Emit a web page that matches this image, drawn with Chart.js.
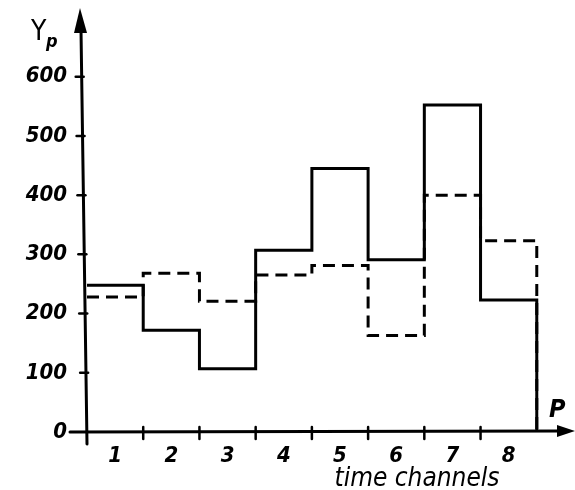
<!DOCTYPE html>
<html>
<head>
<meta charset="utf-8">
<script src="https://cdn.jsdelivr.net/npm/chart.js@4"></script>
<style>
  body { margin: 0; background: #fff; }
  #box { width: 575px; height: 490px; }
</style>
</head>
<body>
<div id="box"><canvas id="stepChart"></canvas></div>
<script>
const channels = [1, 2, 3, 4, 5, 6, 7, 8];
const solidValues = [248, 172, 107, 307, 445, 291, 552, 223];
const dashedValues = [228, 268, 221, 265, 281, 163, 400, 323];
const yTicks = [0, 100, 200, 300, 400, 500, 600];

// one step per channel, closed down to zero at the right end
function steps(values) {
  const pts = values.map((v, i) => ({ x: channels[i] - 0.5, y: v }));
  const end = channels[channels.length - 1] + 0.5;
  pts.push({ x: end, y: values[values.length - 1] });
  pts.push({ x: end, y: 0 });
  return pts;
}

const handFont = '"DejaVu Sans Condensed", "DejaVu Sans"';

const handAxes = {
  id: 'handAxes',
  afterDraw(chart) {
    const { ctx, scales: { x, y } } = chart;
    const x0 = x.getPixelForValue(0.5);
    const y0 = y.getPixelForValue(0);
    ctx.save();
    ctx.strokeStyle = '#000';
    ctx.fillStyle = '#000';
    ctx.lineCap = 'round';
    ctx.lineWidth = 3;

    // y axis, a little slanted like the drawing
    ctx.beginPath();
    ctx.moveTo(x0, y0 + 12);
    ctx.lineTo(x0 - 6, 30);
    ctx.stroke();
    ctx.beginPath();
    ctx.moveTo(x0 - 7, 8);
    ctx.lineTo(x0 - 13, 33);
    ctx.lineTo(x0, 33);
    ctx.closePath();
    ctx.fill();

    // x axis
    ctx.beginPath();
    ctx.moveTo(70, y0);
    ctx.lineTo(560, y0 - 1);
    ctx.stroke();
    ctx.beginPath();
    ctx.moveTo(575, y0 - 1);
    ctx.lineTo(557, y0 - 7);
    ctx.lineTo(557, y0 + 5);
    ctx.closePath();
    ctx.fill();

    // tick marks
    ctx.lineWidth = 2.5;
    for (let i = 1; i < channels.length; i++) {
      const px = x.getPixelForValue(channels[i] - 0.5);
      ctx.beginPath();
      ctx.moveTo(px, y0 - 5);
      ctx.lineTo(px, y0 + 7);
      ctx.stroke();
    }
    yTicks.slice(1).forEach(v => {
      const py = y.getPixelForValue(v);
      const ax = x0 - 6 * (y0 - py) / (y0 - 30);
      ctx.beginPath();
      ctx.moveTo(ax - 6, py);
      ctx.lineTo(ax + 2, py);
      ctx.stroke();
    });

    // labels
    ctx.textBaseline = 'alphabetic';
    ctx.textAlign = 'left';
    ctx.font = '28px ' + handFont;
    ctx.fillText('Y', 31, 40);
    ctx.font = 'italic bold 18px ' + handFont;
    ctx.fillText('p', 46, 47);
    ctx.font = 'italic bold 25px ' + handFont;
    ctx.fillText('P', 549, 417);
    ctx.font = 'italic 26px ' + handFont;
    ctx.textAlign = 'center';
    ctx.fillText('time channels', 417, 486);
    ctx.restore();
  }
};

const tickFont = { family: 'DejaVu Sans Condensed', size: 22, style: 'italic', weight: 'bold' };

const ctx = document.getElementById('stepChart').getContext('2d');
new Chart(ctx, {
  type: 'line',
  data: {
    datasets: [
      {
        label: 'solid',
        data: steps(solidValues),
        borderColor: '#000',
        borderWidth: 3,
        stepped: true,
        pointRadius: 0,
        clip: 10
      },
      {
        label: 'dashed',
        data: steps(dashedValues),
        borderColor: '#000',
        borderWidth: 3,
        borderDash: [12, 7],
        stepped: true,
        pointRadius: 0,
        clip: 10
      }
    ]
  },
  options: {
    responsive: true,
    maintainAspectRatio: false,
    animation: false,
    layout: { padding: { top: 8, right: 0, left: 0, bottom: 0 } },
    plugins: {
      legend: { display: false },
      tooltip: { enabled: false }
    },
    scales: {
      x: {
        type: 'linear',
        min: 0.5,
        max: 9.18,
        afterBuildTicks: s => { s.ticks = channels.map(c => ({ value: c })); },
        afterFit: s => { s.height = 58; s.paddingLeft = 0; s.paddingRight = 0; },
        grid: { display: false, drawTicks: false },
        border: { display: false },
        ticks: { color: '#000', padding: 11, maxRotation: 0, font: tickFont }
      },
      y: {
        min: 0,
        max: 716,
        afterBuildTicks: s => { s.ticks = yTicks.map(v => ({ value: v })); },
        afterFit: s => { s.width = 87; s.paddingTop = 0; s.paddingBottom = 0; },
        grid: { display: false, drawTicks: false },
        border: { display: false },
        ticks: { color: '#000', padding: 20, font: tickFont }
      }
    }
  },
  plugins: [handAxes]
});
</script>
</body>
</html>
